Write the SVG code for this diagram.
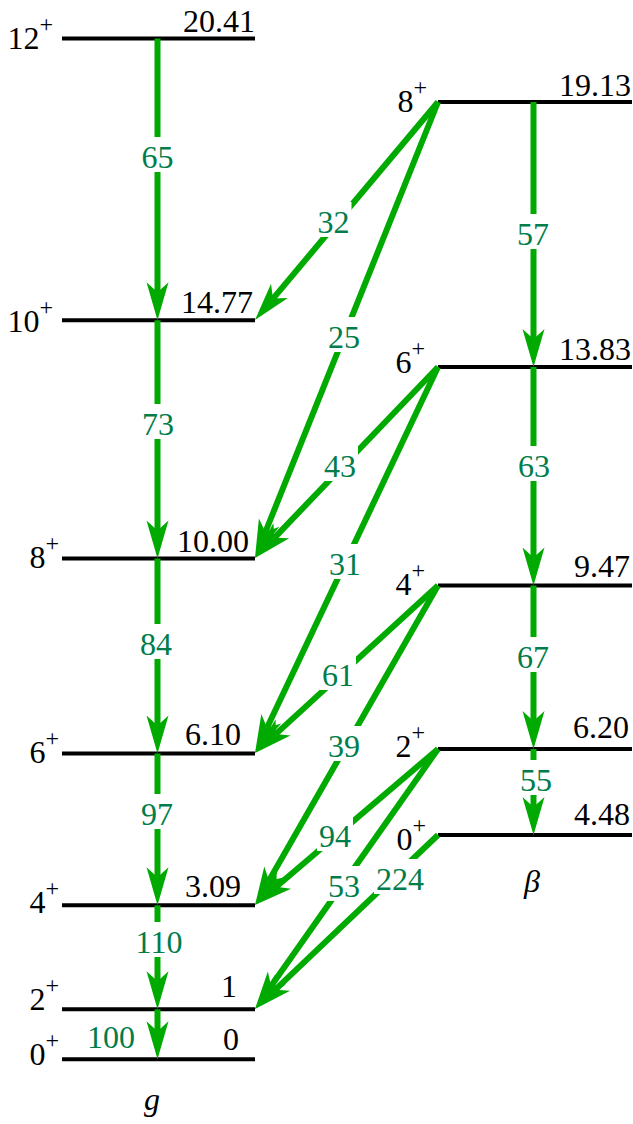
<svg xmlns="http://www.w3.org/2000/svg" width="633" height="1124" viewBox="0 0 633 1124" font-family="Liberation Serif, Times New Roman, Times, serif">
<style>
.lvl{stroke:#000;stroke-width:4;fill:none}
.t{font-family:'Liberation Serif','Times New Roman',Times,serif;font-size:32px;fill:#000}
.sp{font-size:24px}
.tr{stroke:#00aa00;stroke-width:6;fill:none;marker-end:url(#ah)}
.lb{font-family:'Liberation Serif','Times New Roman',Times,serif;font-size:32px;fill:#007d4a;text-anchor:middle}
.bg{fill:#fff}
.it{font-style:italic;text-anchor:middle}
</style>
<defs>
<marker id="ah" markerUnits="userSpaceOnUse" orient="auto" viewBox="-40 -12 42 24" markerWidth="42" markerHeight="24" refX="-28" refY="0" overflow="visible">
<path d="M0,0 L-38,-11 L-28,0 L-38,11 Z" fill="#00aa00"/>
</marker>
</defs>
<rect width="633" height="1124" fill="#fff"/>
<g id="g-band">
<g id="g12"><line class="lvl" x1="62" y1="38.5" x2="255" y2="38.5"/><text class="t" x="53" y="48.5" text-anchor="end">12<tspan class="sp" dy="-17">+</tspan></text><text class="t" x="255" y="32" text-anchor="end">20.41</text></g>
<g id="g10"><line class="lvl" x1="62" y1="320.3" x2="255" y2="320.3"/><text class="t" x="53" y="331.5" text-anchor="end">10<tspan class="sp" dy="-17">+</tspan></text><text class="t" x="253" y="313" text-anchor="end">14.77</text></g>
<g id="g8"><line class="lvl" x1="62" y1="558.5" x2="255" y2="558.5"/><text class="t" x="59" y="568" text-anchor="end">8<tspan class="sp" dy="-17">+</tspan></text><text class="t" x="249" y="551.5" text-anchor="end">10.00</text></g>
<g id="g6"><line class="lvl" x1="62" y1="753.5" x2="255" y2="753.5"/><text class="t" x="59" y="763" text-anchor="end">6<tspan class="sp" dy="-17">+</tspan></text><text class="t" x="241" y="745" text-anchor="end">6.10</text></g>
<g id="g4"><line class="lvl" x1="62" y1="905.3" x2="255" y2="905.3"/><text class="t" x="59" y="913" text-anchor="end">4<tspan class="sp" dy="-17">+</tspan></text><text class="t" x="241" y="897" text-anchor="end">3.09</text></g>
<g id="g2"><line class="lvl" x1="62" y1="1009.3" x2="255" y2="1009.3"/><text class="t" x="59" y="1010" text-anchor="end">2<tspan class="sp" dy="-17">+</tspan></text><text class="t" x="237" y="997" text-anchor="end">1</text></g>
<g id="g0"><line class="lvl" x1="62" y1="1059.3" x2="255" y2="1059.3"/><text class="t" x="59" y="1065" text-anchor="end">0<tspan class="sp" dy="-17">+</tspan></text><text class="t" x="239" y="1050" text-anchor="end">0</text></g>
<text id="g-label" class="t it" x="152" y="1109.5">g</text>
</g>
<g id="b-band">
<g id="b8"><line class="lvl" x1="438" y1="102" x2="632" y2="102"/><text class="t" x="427" y="112" text-anchor="end">8<tspan class="sp" dy="-17">+</tspan></text><text class="t" x="631" y="96" text-anchor="end">19.13</text></g>
<g id="b6"><line class="lvl" x1="438" y1="367" x2="632" y2="367"/><text class="t" x="425" y="373" text-anchor="end">6<tspan class="sp" dy="-17">+</tspan></text><text class="t" x="631" y="360" text-anchor="end">13.83</text></g>
<g id="b4"><line class="lvl" x1="438" y1="585.5" x2="632" y2="585.5"/><text class="t" x="425" y="595" text-anchor="end">4<tspan class="sp" dy="-17">+</tspan></text><text class="t" x="630" y="577" text-anchor="end">9.47</text></g>
<g id="b2"><line class="lvl" x1="438" y1="749" x2="632" y2="749"/><text class="t" x="425" y="757" text-anchor="end">2<tspan class="sp" dy="-17">+</tspan></text><text class="t" x="629" y="738" text-anchor="end">6.20</text></g>
<g id="b0"><line class="lvl" x1="438" y1="835" x2="632" y2="835"/><text class="t" x="426" y="850" text-anchor="end">0<tspan class="sp" dy="-17">+</tspan></text><text class="t" x="630" y="825" text-anchor="end">4.48</text></g>
<text id="b-label" class="t it" x="532" y="892">β</text>
</g>
<g id="connectors">
<line class="tr" x1="157.5" y1="38.5" x2="157.5" y2="292.3"/>
<line class="tr" x1="157.5" y1="320.3" x2="157.5" y2="530.5"/>
<line class="tr" x1="157.5" y1="558.5" x2="157.5" y2="725.5"/>
<line class="tr" x1="157.5" y1="753.5" x2="157.5" y2="877.3"/>
<line class="tr" x1="157.5" y1="905.3" x2="157.5" y2="981.3"/>
<line class="tr" x1="157.5" y1="1009.3" x2="157.5" y2="1031.3"/>
<line class="tr" x1="533.5" y1="102" x2="533.5" y2="339"/>
<line class="tr" x1="533.5" y1="367" x2="533.5" y2="557.5"/>
<line class="tr" x1="533.5" y1="585.5" x2="533.5" y2="721"/>
<line class="tr" x1="533.5" y1="749" x2="533.5" y2="807"/>
<line class="tr" x1="438" y1="102" x2="273" y2="298.6"/>
<line class="tr" x1="438" y1="102" x2="265.4" y2="532"/>
<line class="tr" x1="438" y1="367" x2="274.4" y2="537.8"/>
<line class="tr" x1="438" y1="367" x2="267" y2="727.7"/>
<line class="tr" x1="438" y1="585.5" x2="275.7" y2="734.1"/>
<line class="tr" x1="438" y1="585.5" x2="268.9" y2="880.7"/>
<line class="tr" x1="438" y1="749" x2="276.3" y2="886.8"/>
<line class="tr" x1="438" y1="749" x2="271.1" y2="986.1"/>
<line class="tr" x1="438" y1="835" x2="275.3" y2="989.7"/>
<g id="labels">
<rect class="bg" x="139.5" y="137" width="36" height="35"/><text class="lb" x="157.5" y="168">65</text>
<rect class="bg" x="140" y="404" width="36" height="35"/><text class="lb" x="158" y="435">73</text>
<rect class="bg" x="138" y="624" width="36" height="35"/><text class="lb" x="156" y="655">84</text>
<rect class="bg" x="139" y="794" width="36" height="35"/><text class="lb" x="157" y="825">97</text>
<rect class="bg" x="133" y="922" width="52" height="35"/><text class="lb" x="159" y="953">110</text>
<text class="lb" x="111" y="1048">100</text>
<rect class="bg" x="515" y="214" width="36" height="35"/><text class="lb" x="533" y="245">57</text>
<rect class="bg" x="516" y="446" width="36" height="35"/><text class="lb" x="534" y="477">63</text>
<rect class="bg" x="515" y="637" width="36" height="35"/><text class="lb" x="533" y="668">67</text>
<rect class="bg" x="518" y="760" width="36" height="35"/><text class="lb" x="536" y="791">55</text>
<rect class="bg" x="315.5" y="202" width="36" height="35"/><text class="lb" x="333.5" y="233">32</text>
<rect class="bg" x="326" y="317" width="36" height="35"/><text class="lb" x="344" y="348">25</text>
<rect class="bg" x="322" y="446" width="36" height="35"/><text class="lb" x="340" y="477">43</text>
<rect class="bg" x="327" y="544" width="36" height="35"/><text class="lb" x="345" y="575">31</text>
<rect class="bg" x="320" y="655" width="36" height="35"/><text class="lb" x="338" y="686">61</text>
<rect class="bg" x="326" y="726" width="36" height="35"/><text class="lb" x="344" y="757">39</text>
<rect class="bg" x="317" y="816" width="36" height="35"/><text class="lb" x="335" y="847">94</text>
<rect class="bg" x="326" y="866" width="36" height="35"/><text class="lb" x="344" y="897">53</text>
<rect class="bg" x="374" y="859" width="52" height="35"/><text class="lb" x="400" y="890">224</text>
</g>
</g>
</svg>
